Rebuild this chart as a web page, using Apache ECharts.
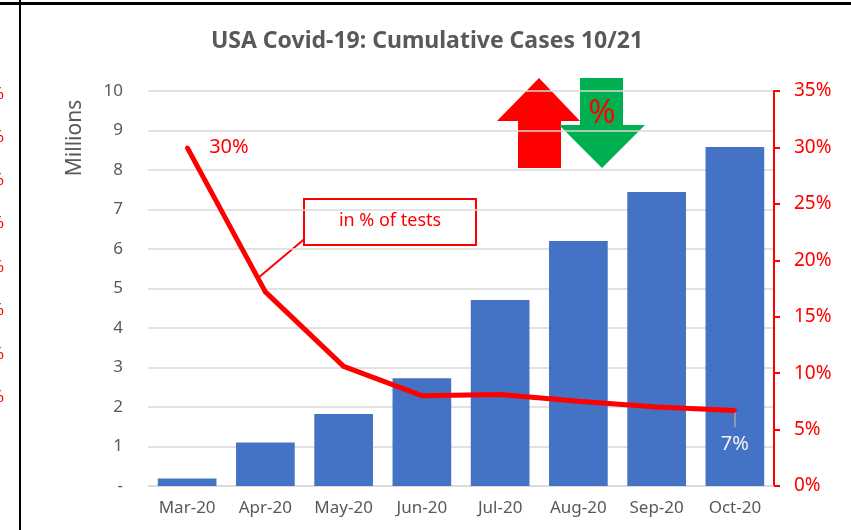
<!DOCTYPE html>
<html>
<head>
<meta charset="utf-8">
<script src="https://cdn.jsdelivr.net/npm/echarts@6/dist/echarts.min.js"></script>
<style>
  html, body { margin: 0; padding: 0; background: #fff; }
  #chart { width: 851px; height: 530px; }
</style>
</head>
<body>
<div id="chart"></div>
<script>
// data
const months = ["Mar-20", "Apr-20", "May-20", "Jun-20", "Jul-20", "Aug-20", "Sep-20", "Oct-20"];
const casesMillions = [0.19, 1.1, 1.82, 2.73, 4.71, 6.2, 7.44, 8.58];
const positiveRate = [0.30, 0.172, 0.106, 0.080, 0.081, 0.075, 0.070, 0.067];

const red = "#ff0000";
const gray = "#595959";
const font = "Noto Sans";
const lastIdx = positiveRate.length - 1;

let myChart = echarts.init(document.getElementById("chart"));

// left edge: tails of the neighbouring chart's percent labels
const leftPct = [97, 140, 183, 226, 270, 313, 357, 400].map(y => ({
  type: "text", left: -10, top: y - 11,
  style: { text: "%", fill: red, font: "17px " + font }
}));

myChart.setOption({
  animation: false,
  textStyle: { fontFamily: font },
  title: {
    text: "USA Covid-19: Cumulative Cases 10/21",
    left: 422, top: 25, textAlign: "center",
    textStyle: { color: gray, fontSize: 23, fontWeight: "bold" }
  },
  grid: { left: 148, right: 77, top: 91, bottom: 44 },
  xAxis: {
    type: "category",
    data: months,
    axisLine: { lineStyle: { color: "#d9d9d9", width: 1.5 } },
    axisTick: { show: false },
    axisLabel: { color: gray, fontSize: 17, margin: 14 }
  },
  yAxis: [
    {
      type: "value", min: 0, max: 10, interval: 1,
      axisLine: { show: false },
      axisTick: { show: false },
      axisLabel: {
        color: gray, fontSize: 17, margin: 25,
        formatter: v => (v === 0 ? "-" : v)
      },
      splitLine: { lineStyle: { color: "#d9d9d9", width: 1.5 } }
    },
    {
      type: "value", min: 0, max: 0.35, interval: 0.05,
      position: "right",
      axisLine: { show: true, lineStyle: { color: red, width: 2 } },
      axisTick: { show: true, length: 6, lineStyle: { color: red, width: 2 } },
      axisLabel: {
        color: red, fontSize: 19, margin: 20,
        formatter: v => Math.round(v * 100) + "%"
      },
      splitLine: { show: false }
    }
  ],
  series: [
    {
      name: "Cases",
      type: "bar",
      data: casesMillions,
      barCategoryGap: "25%",
      itemStyle: { color: "#4472c4" }
    },
    {
      name: "in % of tests",
      type: "line",
      yAxisIndex: 1,
      data: positiveRate.map((v, i) => {
        if (i === 0) {
          return { value: v, label: { show: true, position: "right", distance: 20, color: red } };
        }
        if (i === lastIdx) {
          return { value: v, label: { show: true, position: "bottom", distance: 22, color: "#f2f2f2" } };
        }
        return { value: v, label: { show: false } };
      }),
      label: {
        fontSize: 20,
        fontFamily: font,
        formatter: p => Math.round(p.value * 100) + "%"
      },
      showSymbol: true,
      symbol: "circle",
      symbolSize: 4,
      itemStyle: { color: red },
      lineStyle: { color: red, width: 5 },
      labelLayout: { hideOverlap: false },
      z: 5,
      markLine: {
        silent: true,
        symbol: "none",
        label: { show: false },
        lineStyle: { color: "#a6a6a6", width: 1.5, type: "solid" },
        data: [[
          { coord: [lastIdx, positiveRate[lastIdx]] },
          { coord: [lastIdx, 0.052] }
        ]]
      }
    }
  ],
  graphic: [
    // frame lines
    { type: "rect", shape: { x: 0, y: 2, width: 851, height: 3 }, style: { fill: "#000" } },
    { type: "rect", shape: { x: 19, y: 0, width: 2, height: 530 }, style: { fill: "#000" } },
    ...leftPct,
    // axis title
    {
      type: "text", x: 75, y: 138, rotation: Math.PI / 2,
      style: { text: "Millions", fill: gray, font: "21px " + font, align: "center", verticalAlign: "middle" }
    },
    // callout box
    {
      type: "line", shape: { x1: 308, y1: 236, x2: 258, y2: 278 },
      style: { stroke: red, lineWidth: 2 }
    },
    {
      type: "rect", shape: { x: 304, y: 199, width: 172, height: 46 },
      style: { fill: "#fff", stroke: red, lineWidth: 2 }
    },
    {
      type: "text", x: 390, y: 221,
      style: { text: "in % of tests", fill: red, font: "18px " + font, align: "center", verticalAlign: "middle" }
    },
    // red up arrow
    {
      type: "polygon",
      shape: { points: [[539, 78], [580, 121], [561, 121], [561, 168], [518, 168], [518, 121], [497, 121]] },
      style: { fill: red }
    },
    // green down arrow
    {
      type: "polygon",
      shape: { points: [[580, 78], [623, 78], [623, 125], [645, 125], [602, 168], [559, 125], [580, 125]] },
      style: { fill: "#00b050" }
    },
    {
      type: "text", x: 602, y: 114,
      style: { text: "%", fill: red, font: "33px " + font, align: "center", verticalAlign: "middle" }
    }
  ]
});
</script>
</body>
</html>
